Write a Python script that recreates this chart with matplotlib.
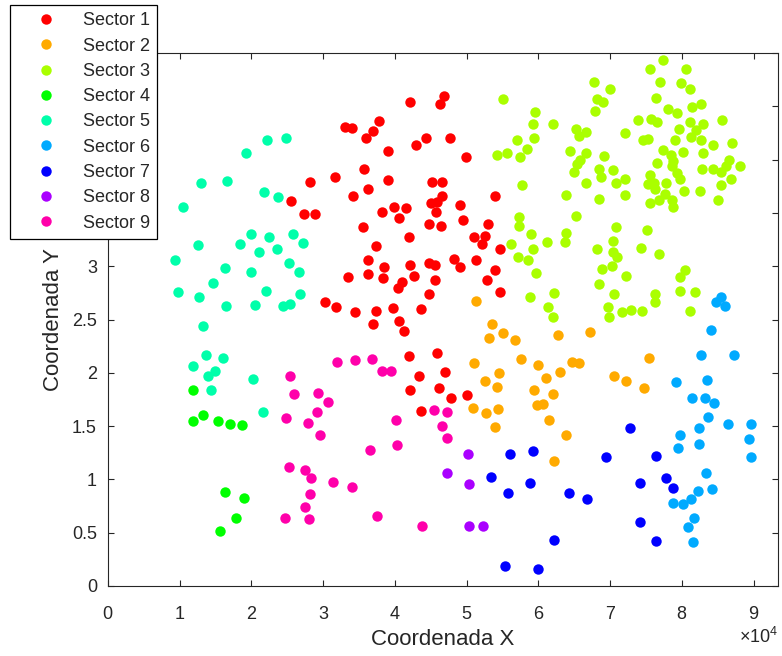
import numpy as np
import matplotlib
matplotlib.use('Agg')
from matplotlib import pyplot as plt

'''
Sectores de la ciudad: puntos (X, Y) agrupados en 9 sectores
coordenadas en unidades de 1e4 (x) y 1e4 (y)
'''

sector1 = [(4.69,4.60),(4.63,4.52),(4.21,4.54),(3.78,4.36),(3.31,4.31),(3.40,4.30),(3.69,4.27),(3.60,4.20),
           (4.43,4.20),(4.30,4.14),(4.77,4.20),(3.90,4.08),(4.99,4.02),(3.57,3.91),(3.16,3.84),(2.81,3.79),
           (3.90,3.81),(4.52,3.79),(4.66,3.79),(3.62,3.72),(3.41,3.66),(4.65,3.66),(5.40,3.66),(4.50,3.59),
           (4.58,3.60),(3.98,3.56),(4.15,3.55),(4.91,3.57),(3.82,3.51),(4.57,3.51),(2.73,3.49),(2.89,3.49),
           (4.06,3.45),(4.95,3.43),(4.48,3.40),(4.64,3.38),(5.30,3.40),(3.56,3.37),(4.19,3.27),(5.10,3.27),
           (5.26,3.28),(5.21,3.21),(3.74,3.19),(5.46,3.16),(2.55,3.61),(3.63,3.06),(3.85,2.99),(3.63,2.93),
           (3.34,2.90),(3.83,2.89),(4.21,3.01),(4.47,3.03),(4.56,3.01),(4.26,2.91),(4.83,3.07),(4.91,2.99),
           (5.13,3.06),(5.40,2.96),(5.29,2.87),(4.56,2.87),(4.10,2.85),(4.04,2.80),(4.48,2.74),(5.47,2.76),
           (3.03,2.66),(3.18,2.62),(3.45,2.57),(3.73,2.58),(3.97,2.61),(4.36,2.60),(3.70,2.46),(4.06,2.49),
           (4.13,2.39),(4.20,2.16),(4.58,2.19),(4.70,2.01),(4.33,1.97),(4.21,1.84),(4.62,1.86),(4.78,1.76),
           (5.00,1.79),(4.36,1.64)]

sector2 = [(5.13,2.67),(5.35,2.46),(5.31,2.33),(5.51,2.37),(5.68,2.31),(5.76,2.13),(5.10,2.09),(5.99,2.07),
           (5.45,2.00),(5.26,1.92),(6.11,1.95),(5.42,1.87),(5.94,1.84),(6.20,1.80),(5.98,1.70),(6.06,1.71),
           (5.09,1.67),(5.27,1.62),(5.43,1.66),(5.40,1.49),(6.15,1.56),(6.22,1.17),(6.27,2.35),(6.72,2.38),
           (6.47,2.10),(6.56,2.09),(6.30,2.01),(7.54,2.14),(7.06,1.97),(7.22,1.92),(7.47,1.86),(6.38,1.42)]

sector3 = [(5.51,4.57),(5.95,4.45),(5.93,4.33),(5.94,4.20),(5.70,4.18),(5.84,4.10),(5.42,4.04),(5.56,4.06),
           (5.75,4.02),(5.77,3.76),(5.73,3.46),(5.73,3.38),(5.90,3.30),(5.62,3.21),(5.93,3.16),(6.21,4.33),
           (6.78,4.73),(7.00,4.66),(6.81,4.57),(6.90,4.54),(6.79,4.46),(6.52,4.29),(6.66,4.26),(6.56,4.22),
           (6.44,4.08),(6.67,4.06),(6.58,4.00),(6.54,3.96),(6.49,3.88),(6.91,4.03),(6.85,3.91),(6.87,3.84),
           (7.04,3.90),(6.67,3.78),(7.08,3.78),(7.21,3.82),(6.39,3.67),(6.84,3.63),(7.21,3.67),(7.21,4.25),
           (7.39,4.37),(7.56,4.85),(7.73,4.93),(8.06,4.85),(7.69,4.73),(7.99,4.72),(8.12,4.66),(7.64,4.58),
           (7.81,4.47),(7.93,4.44),(8.14,4.49),(8.26,4.52),(7.57,4.38),(7.66,4.35),(8.12,4.35),(8.29,4.33),
           (8.56,4.37),(7.96,4.29),(8.20,4.28),(7.46,4.18),(7.53,4.19),(7.91,4.18),(8.13,4.21),(8.26,4.18),
           (8.43,4.14),(8.70,4.16),(7.73,4.09),(7.85,4.04),(8.01,4.07),(8.29,4.06),(7.66,3.97),(7.87,3.99),
           (7.86,3.94),(8.28,3.91),(8.43,3.91),(8.66,4.00),(8.61,3.94),(8.81,3.94),(8.54,3.88),(7.93,3.87),
           (7.55,3.86),(7.53,3.77),(7.61,3.78),(7.78,3.78),(7.98,3.82),(8.03,3.71),(8.25,3.71),(8.54,3.76),
           (8.69,3.82),(7.62,3.72),(7.77,3.68),(7.68,3.62),(7.86,3.62),(7.88,3.56),(7.56,3.59),(8.51,3.62),
           (6.12,3.23),(6.39,3.31),(6.37,3.23),(6.52,3.47),(7.08,3.37),(7.04,3.24),(7.51,3.34),(6.81,3.16),
           (7.04,3.13),(7.09,3.09),(7.43,3.17),(7.68,3.11),(5.72,3.09),(5.85,3.06),(5.97,2.94),(6.89,2.97),
           (7.02,3.00),(7.22,2.91),(8.05,2.96),(7.97,2.90),(6.84,2.83),(7.06,2.74),(6.97,2.62),(6.99,2.52),
           (7.16,2.57),(7.29,2.59),(7.45,2.58),(7.63,2.74),(7.63,2.66),(7.98,2.77),(8.18,2.76),(8.11,2.58),
           (6.22,2.75),(6.13,2.62),(6.20,2.52),(5.88,2.71)]

sector4 = [(1.18,1.84),(1.18,1.55),(1.32,1.60),(1.53,1.55),(1.70,1.52),(1.87,1.51),(1.63,0.88),(1.89,0.83),
           (1.78,0.64),(1.56,0.52)]

sector5 = [(2.21,4.18),(2.48,4.20),(1.93,4.06),(1.30,3.78),(1.66,3.80),(1.04,3.56),(2.18,3.70),(2.37,3.65),
           (2.00,3.30),(2.24,3.27),(2.58,3.30),(2.72,3.22),(1.84,3.21),(1.26,3.20),(2.11,3.13),(2.36,3.16),
           (0.93,3.06),(1.63,2.98),(2.00,2.95),(2.53,3.03),(2.66,2.95),(1.46,2.84),(2.20,2.77),(0.98,2.76),
           (1.27,2.71),(1.64,2.63),(2.05,2.64),(2.44,2.63),(2.54,2.65),(2.68,2.74),(1.32,2.44),(1.37,2.17),
           (1.60,2.14),(1.19,2.06),(1.49,2.02),(1.39,1.97),(2.02,1.94),(1.44,1.84),(2.16,1.63)]

sector6 = [(8.54,2.71),(8.47,2.66),(8.60,2.63),(8.41,2.40),(8.27,2.17),(8.73,2.17),(7.92,1.91),(8.35,1.93),
           (8.14,1.76),(8.32,1.76),(8.45,1.72),(8.36,1.59),(7.97,1.42),(8.24,1.48),(8.64,1.52),(8.97,1.52),
           (7.95,1.29),(8.24,1.33),(8.94,1.38),(8.97,1.21),(8.34,1.06),(8.22,0.89),(8.42,0.91),(8.13,0.82),
           (8.02,0.77),(7.87,0.78),(8.17,0.64),(8.08,0.55),(8.15,0.41)]

sector7 = [(5.61,1.24),(5.92,1.27),(5.34,1.02),(5.88,0.97),(5.58,0.87),(6.22,0.43),(5.54,0.19),(6.00,0.16),
           (7.28,1.48),(6.94,1.21),(7.64,1.22),(7.42,0.97),(7.78,1.01),(7.88,0.92),(6.43,0.87),(6.68,0.82),
           (7.42,0.60),(7.64,0.42)]

sector8 = [(5.02,1.24),(4.72,1.06),(5.03,0.96),(5.03,0.56),(5.23,0.56)]

sector9 = [(2.54,1.97),(2.59,1.80),(2.93,1.81),(3.07,1.73),(2.91,1.63),(3.19,2.10),(2.48,1.58),(2.79,1.53),
           (2.96,1.42),(2.52,1.12),(2.74,1.09),(2.83,1.01),(3.13,0.98),(2.81,0.86),(2.74,0.74),(2.47,0.64),
           (2.80,0.63),(3.44,2.12),(3.68,2.13),(3.82,2.02),(3.94,2.02),(4.54,1.65),(4.73,1.63),(4.02,1.56),
           (4.66,1.50),(4.72,1.39),(3.65,1.28),(4.03,1.32),(3.40,0.93),(3.75,0.66),(4.38,0.56)]

sectors = [sector1, sector2, sector3, sector4, sector5, sector6, sector7, sector8, sector9]
names = ['Sector %d' % (i + 1) for i in range(9)]
# colores tipo hsv(9) de matlab
colors = ['#ff0000', '#ffaa00', '#aaff00', '#00ff00', '#00ffaa',
          '#00aaff', '#0000ff', '#aa00ff', '#ff00aa']
# las etiquetas de 3.5 a 5 quedan tapadas por la leyenda
ytick_labels = ['0', '0.5', '1', '1.5', '2', '2.5', '3', '', '', '', '']

plt.rcParams['font.family'] = ['Liberation Sans', 'DejaVu Sans']
plt.rcParams['mathtext.fontset'] = 'custom'
plt.rcParams['mathtext.rm'] = 'Liberation Sans'
txt = '#262626'

fig = plt.figure(figsize=(7.82, 6.56), dpi=100)
ax = fig.add_axes([108/782, 70/656, 670/782, 533/656])

for pts, name, c in zip(sectors, names, colors):
    pts = np.array(pts)
    ax.plot(pts[:, 0] * 1e4, pts[:, 1], 'o', color=c, markersize=7.5,
            markeredgewidth=0, label=name)

ax.set_xlim(0, 9.34e4)
ax.set_ylim(0, 5)
ax.set_xticks(np.arange(0, 10) * 1e4)
ax.set_yticks(np.arange(0, 5.01, 0.5))
ax.set_yticklabels(ytick_labels)
ax.ticklabel_format(axis='x', style='sci', scilimits=(4, 4), useMathText=True)

ax.tick_params(direction='in', top=True, right=True, length=4.3, width=0.8,
               labelsize=13, colors=txt, pad=8)
ax.tick_params(axis='x', pad=14.5)
ax.xaxis.get_offset_text().set_fontsize(13)
ax.xaxis.get_offset_text().set_color(txt)
for s in ax.spines.values():
    s.set_color(txt)
    s.set_linewidth(0.8)

ax.set_xlabel('Coordenada X', fontsize=16, color=txt, labelpad=4)
ax.set_ylabel('Coordenada Y', fontsize=16, color=txt, labelpad=6)

leg = fig.legend(loc='upper left', bbox_to_anchor=(10/782, 1 - 5/656), fontsize=13,
                 frameon=True, fancybox=False, edgecolor='black', framealpha=1,
                 handlelength=3.2, handletextpad=0.45, borderpad=0.4, labelspacing=0.46,
                 numpoints=1, borderaxespad=0)
leg.get_frame().set_linewidth(0.9)
for t in leg.get_texts():
    t.set_color(txt)

fig.savefig('out.png', dpi=100)
